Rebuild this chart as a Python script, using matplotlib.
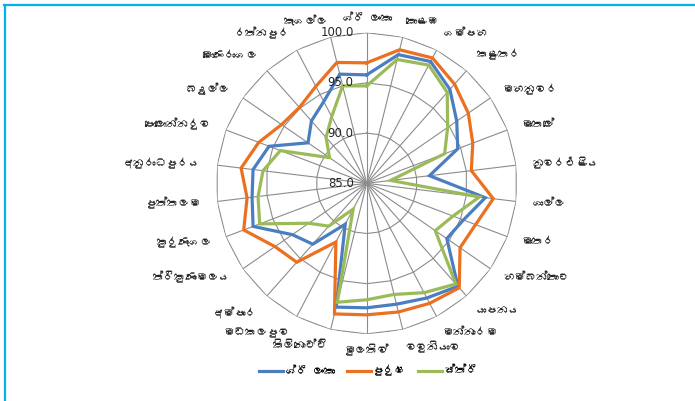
import numpy as np
import matplotlib
matplotlib.use('Agg')
import matplotlib.pyplot as plt
from matplotlib import font_manager, transforms
from matplotlib.ft2font import FT2Font
from matplotlib.lines import Line2D

# දිස්ත්‍රික්ක (clockwise from top)
districts = ['ශ්‍රී ලංකා', 'කොළඹ', 'ගම්පහ', 'කළුතර', 'මහනුවර', 'මාතලේ', 'නුවරඑළිය',
             'ගාල්ල', 'මාතර', 'හම්බන්තොට', 'යාපනය', 'මන්නාරම', 'වවුනියාව', 'මුලතිව්',
             'කිලිනොච්චි', 'මඩකලපුව', 'අම්පාර', 'ත්‍රිකුණාමලය', 'කුරුණෑගල', 'පුත්තලම',
             'අනුරාධපුරය', 'පොලොන්නරුව', 'බදුල්ල', 'මොණරාගල', 'රත්නපුර', 'කෑගල්ල']

total = [95.8, 98.2, 98.7, 97.5, 95.9, 94.7, 91.3, 96.9, 95.3, 94.7, 98.7, 97.9, 97.4,
         97.4, 97.7, 89.6, 93.1, 94.0, 97.1, 96.5, 96.4, 95.4, 92.1, 93.3, 94.2, 96.2]
male = [97.0, 98.7, 99.1, 98.2, 97.3, 96.3, 95.5, 97.7, 96.6, 96.3, 98.9, 98.5, 98.2,
        98.1, 98.4, 91.6, 95.5, 96.1, 98.1, 97.0, 97.6, 96.5, 95.3, 95.1, 95.9, 97.4]
female = [94.7, 97.7, 98.3, 97.1, 94.8, 93.3, 87.4, 96.3, 94.2, 93.3, 98.4, 97.3, 96.4,
          96.6, 97.2, 87.9, 90.7, 92.0, 96.4, 95.9, 95.4, 94.2, 89.5, 91.1, 92.5, 95.0]
series_names = ['ශ්‍රී ලංකා', 'පුරුෂ', 'ස්ත්‍රී']
ticks = [85.0, 90.0, 95.0, 100.0]


def find_sinhala_font():
    # look for any installed font that has Sinhala glyphs
    for f in font_manager.fontManager.ttflist:
        try:
            if 0x0DC1 in FT2Font(f.fname).get_charmap():
                return f.name
        except Exception:
            pass
    return None


def show(s):
    # no text shaping in matplotlib, the zero width joiner would draw as a box
    return s.replace('\u200d', '')


sin_font = find_sinhala_font()
fams = ['DejaVu Sans']
if sin_font:
    fams = [sin_font, 'DejaVu Sans']
plt.rcParams['font.family'] = fams

fig = plt.figure(figsize=(6.95, 4.01), dpi=100)
ax = fig.add_axes([0.3109, 0.1673, 0.4334, 0.7511], projection='polar')
ax.set_theta_zero_location('N')
ax.set_theta_direction(-1)
ax.set_ylim(85, 100)
ax.grid(False)
ax.spines['polar'].set_visible(False)
ax.set_xticks([])
ax.set_yticks([])
ax.patch.set_visible(False)

n = len(districts)
theta = np.arange(n) * 2 * np.pi / n
closed = np.append(theta, theta[0])

grid_col = '#8C8C8C'
for t in theta:
    ax.plot([t, t], [85, 100], color=grid_col, lw=0.8, zorder=1)
for v in ticks[1:]:
    ax.plot(closed, [v] * (n + 1), color=grid_col, lw=0.8, zorder=1)

colors = ['#4A7EC0', '#EB7020', '#9BBB59']
for vals, c in zip([total, male, female], colors):
    ax.plot(closed, vals + vals[:1], color=c, lw=2.3, zorder=3, solid_joinstyle='miter')

# value labels on the vertical axis
off = transforms.offset_copy(ax.transData, fig=fig, x=-13, y=0, units='dots')
for v in ticks:
    ax.text(0, v, f'{v:.1f}', transform=off, ha='right', va='center',
            fontsize=8.5, color='#262626', family='DejaVu Sans', zorder=4)

# district labels
for t, lab in zip(theta, districts):
    s, c = np.sin(t), np.cos(t)
    ha = 'center' if abs(s) < 0.1 else ('left' if s > 0 else 'right')
    va = 'bottom' if c > 0.6 else ('top' if c < -0.6 else 'center')
    ax.text(t, 101.0 + 0.6 * abs(s), show(lab), ha=ha, va=va, fontsize=8, color='#262626')

handles = [Line2D([], [], color=c, lw=2.3) for c in colors]
fig.legend(handles, [show(s) for s in series_names], loc='center', bbox_to_anchor=(0.53, 0.075),
           ncol=3, frameon=False, fontsize=8, handlelength=2.2, columnspacing=1.0,
           handletextpad=0.2)

# cyan frame (top and left edges)
fig.add_artist(Line2D([0.006, 1.0], [0.988, 0.988], color='#00B0F0', lw=1.6))
fig.add_artist(Line2D([0.007, 0.007], [0.0, 0.988], color='#00B0F0', lw=1.6))

fig.savefig('out.png', dpi=100)
